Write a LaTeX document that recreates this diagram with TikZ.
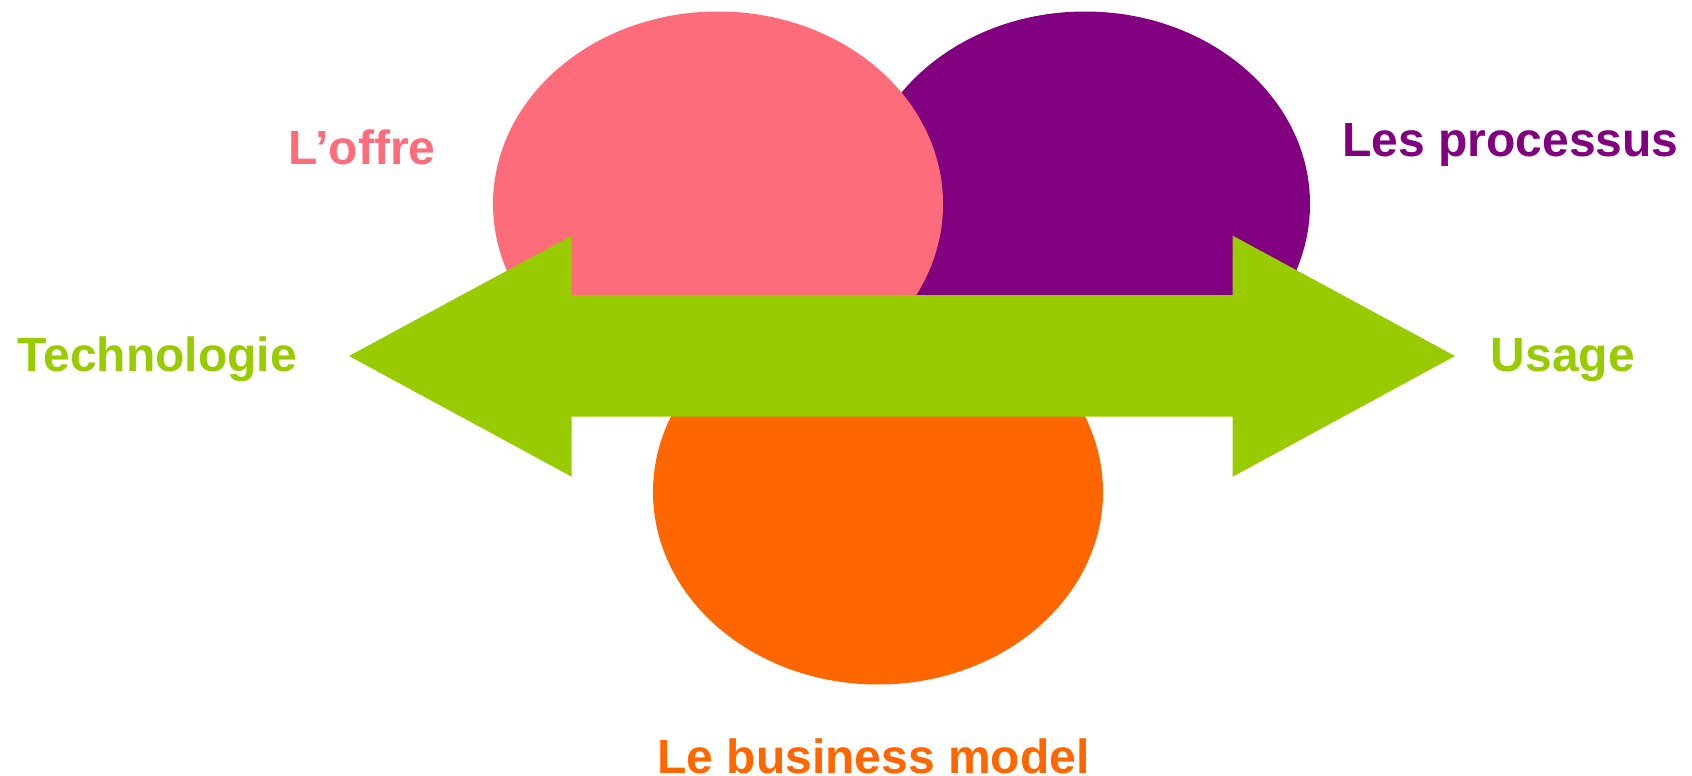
\documentclass[tikz,border=0pt]{standalone}
\usepackage{fontspec}
\setmainfont{Liberation Sans}
\usetikzlibrary{shapes.geometric}
\definecolor{cpink}{HTML}{FC6C7A}
\definecolor{cpurple}{HTML}{800080}
\definecolor{corange}{HTML}{FF6600}
\definecolor{cgreen}{HTML}{99CC00}
\begin{document}
\begin{tikzpicture}[x=1pt,y=-1pt,
  blob/.style={ellipse, minimum width=450pt, minimum height=385pt, inner sep=0pt, outer sep=0pt, draw=none},
  lbl/.style={anchor=base, inner sep=0pt, font=\fontsize{48}{56}\selectfont\bfseries}]
\useasboundingbox (0,0) rectangle (1692,776);
\node[blob, fill=cpurple] (proc) at (1085,204) {};
\node[blob, fill=cpink] (offre) at (718,204) {};
\node[blob, fill=corange] (bm) at (878,492) {};
\fill[cgreen] (349,356) -- (571.7,235.7) -- (571.7,295) -- (1232.7,295) -- (1232.7,235.7)
  -- (1455,356) -- (1232.7,476.7) -- (1232.7,416.7) -- (571.7,416.7) -- (571.7,476.7) -- cycle;
\node[lbl, text=cpink] (toffre) at (362.2,164) {L’offre};
\node[lbl, text=cpurple] (tproc) at (1510.5,156.7) {Les processus};
\node[lbl, text=cgreen] (ttech) at (157.3,371.7) {Technologie};
\node[lbl, text=cgreen] (tusage) at (1562.7,371.7) {Usage};
\node[lbl, text=corange] (tbm) at (873.5,773) {Le business model};
\end{tikzpicture}
\end{document}
